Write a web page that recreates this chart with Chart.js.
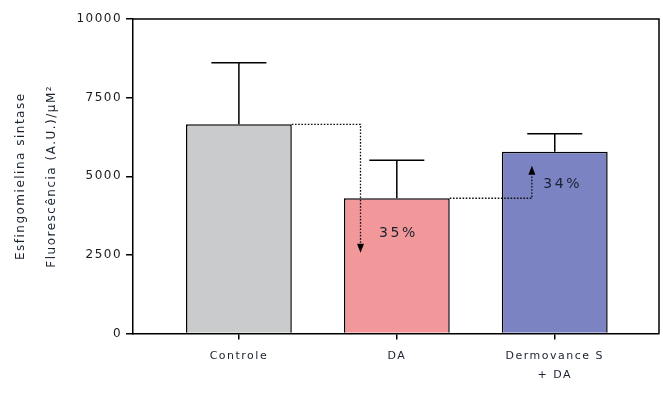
<!DOCTYPE html>
<html>
<head>
<meta charset="utf-8">
<script src="https://cdn.jsdelivr.net/npm/chart.js@4/dist/chart.umd.min.js"></script>
<style>
  html, body { margin: 0; padding: 0; background: #fff; }
  #wrap { width: 663px; height: 395px; position: relative; }
</style>
</head>
<body>
<div id="wrap"><canvas id="c"></canvas></div>
<script>
// Groups and measured values (mean and upper SD)
const categories = ['Controle', 'DA', ['Dermovance S', '+ DA']];
const positions = [1, 2, 3];
const means = [6650, 4300, 5780];
const sdUpper = [1960, 1210, 570];
const barColors = ['#c9cbcc', '#f2989a', '#7b83c2'];

// Y axis ticks
const yTicks = [0, 2500, 5000, 7500, 10000];

// Change arrows between groups: from group -> to group
const changeFrom = [0, 1];
const changeTo = [1, 2];
const changeTurnX = [1.77, 2.855];
const changeArrowEnd = [2570, 5330];
const changeLabelX = [2.01, 3.05];
const changeLabelY = [3175, 4730];

const TEXT = '#1a2230';
const FONT = "'DejaVu Sans', Verdana, sans-serif";

const spacing = {
  id: 'spacing',
  beforeLayout(chart) { chart.ctx.letterSpacing = '1.5px'; },
  beforeDraw(chart) { chart.ctx.letterSpacing = '1.5px'; }
};

const frame = {
  id: 'frame',
  afterDraw(chart) {
    const { ctx, chartArea: a } = chart;
    ctx.save();
    ctx.strokeStyle = '#000';
    ctx.lineWidth = 1.5;
    ctx.beginPath();
    ctx.moveTo(a.left, a.top);
    ctx.lineTo(a.right, a.top);
    ctx.lineTo(a.right, a.bottom);
    ctx.stroke();
    ctx.restore();
  }
};

const errorBars = {
  id: 'errorBars',
  afterDatasetsDraw(chart) {
    const { ctx } = chart;
    const y = chart.scales.y;
    const meta = chart.getDatasetMeta(0);
    ctx.save();
    ctx.strokeStyle = '#000';
    ctx.lineWidth = 1.5;
    meta.data.forEach((bar, i) => {
      const top = y.getPixelForValue(means[i] + sdUpper[i]);
      const cap = bar.width * 0.26;
      ctx.beginPath();
      ctx.moveTo(bar.x, bar.y);
      ctx.lineTo(bar.x, top);
      ctx.moveTo(bar.x - cap, top);
      ctx.lineTo(bar.x + cap, top);
      ctx.stroke();
    });
    ctx.restore();
  }
};

const changes = {
  id: 'changes',
  afterDraw(chart) {
    const { ctx } = chart;
    const xs = chart.scales.x, ys = chart.scales.y;
    const meta = chart.getDatasetMeta(0);
    changeFrom.forEach((f, k) => {
      const t = changeTo[k];
      const src = meta.data[f];
      const x0 = src.x + src.width / 2;
      const y0 = ys.getPixelForValue(means[f]);
      const xt = xs.getPixelForValue(changeTurnX[k]);
      const ye = ys.getPixelForValue(changeArrowEnd[k]);
      const dir = ye > y0 ? 1 : -1;
      const head = 9;
      ctx.save();
      ctx.strokeStyle = '#111';
      ctx.lineWidth = 1.3;
      ctx.setLineDash([1.6, 1.6]);
      ctx.beginPath();
      ctx.moveTo(x0, y0);
      ctx.lineTo(xt, y0);
      ctx.lineTo(xt, ye - dir * head);
      ctx.stroke();
      ctx.setLineDash([]);
      ctx.fillStyle = '#000';
      ctx.beginPath();
      ctx.moveTo(xt - 3.5, ye - dir * head);
      ctx.lineTo(xt + 3.5, ye - dir * head);
      ctx.lineTo(xt, ye);
      ctx.closePath();
      ctx.fill();
      const pct = Math.round(Math.abs(means[t] - means[f]) / means[f] * 100);
      ctx.letterSpacing = '2.5px';
      ctx.font = '14px ' + FONT;
      ctx.fillStyle = TEXT;
      ctx.textAlign = 'center';
      ctx.textBaseline = 'middle';
      ctx.fillText(pct + '%', xs.getPixelForValue(changeLabelX[k]), ys.getPixelForValue(changeLabelY[k]));
      ctx.restore();
    });
  }
};

new Chart(document.getElementById('c'), {
  type: 'bar',
  data: {
    datasets: [{
      data: positions.map((p, i) => ({ x: p, y: means[i] })),
      backgroundColor: barColors,
      borderColor: '#000',
      borderWidth: 1.5,
      borderSkipped: 'start',
      categoryPercentage: 1,
      barPercentage: 0.67
    }]
  },
  options: {
    responsive: true,
    maintainAspectRatio: false,
    animation: false,
    events: [],
    layout: { padding: { top: 19, right: 4, left: 0, bottom: 3 } },
    plugins: { legend: { display: false }, tooltip: { enabled: false } },
    scales: {
      x: {
        type: 'linear',
        offset: false,
        min: 0.33,
        max: 3.66,
        afterBuildTicks(scale) { scale.ticks = positions.map(v => ({ value: v })); },
        ticks: {
          callback: (v) => categories[positions.indexOf(v)],
          font: { family: FONT, size: 11, lineHeight: 1.75 },
          color: TEXT,
          padding: 7,
          maxRotation: 0,
          autoSkip: false
        },
        grid: { display: true, offset: false, drawOnChartArea: false, drawTicks: true, tickLength: 6, color: '#000', lineWidth: 1.5 },
        border: { display: true, color: '#000', width: 1.5 }
      },
      y: {
        min: 0,
        max: 10000,
        afterBuildTicks(scale) { scale.ticks = yTicks.map(v => ({ value: v })); },
        ticks: {
          callback: (v) => String(v),
          font: { family: FONT, size: 12 },
          color: '#1a1a1a',
          padding: 4
        },
        grid: { display: true, drawOnChartArea: false, drawTicks: true, tickLength: 7, color: '#000', lineWidth: 1.5 },
        border: { display: true, color: '#000', width: 1.5 },
        title: {
          display: true,
          text: ['Esfingomielina sintase', 'Fluorescência (A.U.)/µM²'],
          color: TEXT,
          font: { family: FONT, size: 12, lineHeight: 2.6 },
          padding: { top: 5, bottom: 5 }
        }
      }
    }
  },
  plugins: [spacing, frame, errorBars, changes]
});
</script>
</body>
</html>
